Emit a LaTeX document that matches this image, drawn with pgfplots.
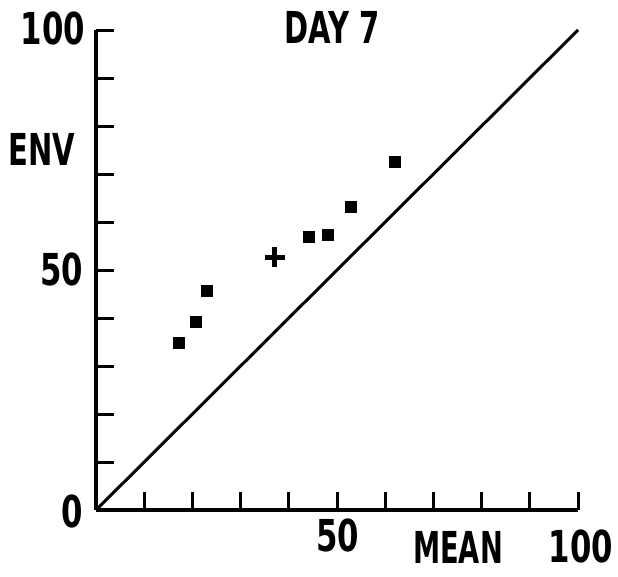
\documentclass[border=0pt]{standalone}
\usepackage{fontspec}
\setmainfont{DejaVu Sans}
\usepackage{graphicx}
\usepackage{pgfplots}
\pgfplotsset{compat=1.18}

% plotter-style lettering: bold, narrowed
\newcommand{\plt}[2][0.66]{{\fontsize{44}{44}\selectfont\bfseries\scalebox{#1}[1]{#2}}}

\begin{document}
\begin{tikzpicture}
\path (0pt,0pt) rectangle (618pt,-576pt);
\begin{axis}[
  x=4.82pt, y=4.8pt,
  xmin=0, xmax=100, ymin=0, ymax=100,
  at={(96pt,-510pt)}, anchor=south west,
  axis lines*=left,
  axis line style={line width=4.5pt, black},
  xtick={10,20,...,100}, ytick={10,20,...,100},
  xticklabels={}, yticklabels={},
  tick align=inside,
  major tick length=18pt,
  tick style={line width=3pt, black},
  clip=false,
]
% line of equality
\addplot[black, line width=3pt] coordinates {(0,0) (100,100)};
% individual observations
\addplot[only marks, mark=square*, mark size=5.5pt, black] coordinates {
  (17.2,34.8) (20.7,39.2) (23.0,45.6)
  (44.2,56.9) (48.1,57.3) (52.9,63.1) (62.0,72.5)
};
% overall mean
\addplot[only marks, mark=+, mark size=10pt, line width=5pt, black] coordinates {(37.1,52.7)};

\node[inner sep=0pt] at (axis cs:-8.9,100.4) {\plt[0.7]{100}};
\node[inner sep=0pt] at (axis cs:-11.2,75.2) {\plt{ENV}};
\node[inner sep=0pt] at (axis cs:-7.1,50.2) {\plt[0.7]{50}};
\node[inner sep=0pt] at (axis cs:-5.0,-0.4) {\plt[0.7]{0}};
\node[inner sep=0pt] at (axis cs:50.2,-5.4) {\plt[0.7]{50}};
\node[inner sep=0pt] at (axis cs:75.1,-7.9) {\plt[0.62]{MEAN}};
\node[inner sep=0pt] at (axis cs:100.6,-7.5) {\plt[0.7]{100}};
\node[inner sep=0pt] at (axis cs:49.0,100.6) {\plt{DAY 7}};
\end{axis}
\end{tikzpicture}
\end{document}
